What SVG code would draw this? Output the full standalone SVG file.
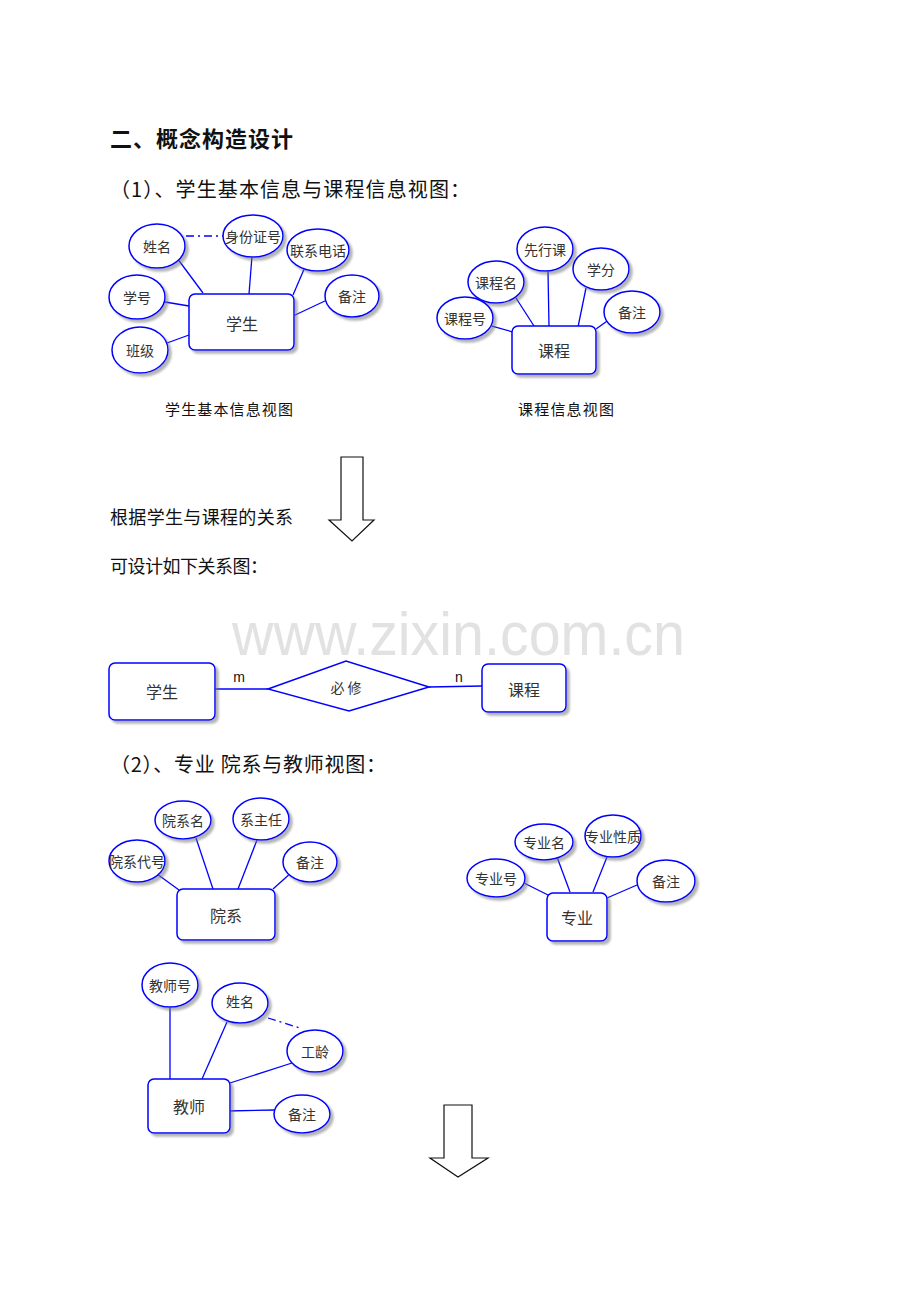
<svg xmlns="http://www.w3.org/2000/svg" width="920" height="1302" viewBox="0 0 920 1302">
<style>
.e{fill:#fff;stroke:#0000ff;stroke-width:1.5;filter:url(#sh)}
.r{fill:#fff;stroke:#0000ff;stroke-width:1.5;filter:url(#sh)}
.l{stroke:#0000ff;stroke-width:1.3;fill:none}
.d{stroke:#0000ff;stroke-width:1.3;fill:none;stroke-dasharray:8 4 2 4}
.t{font-family:"Noto Sans CJK SC","Liberation Sans",sans-serif;fill:#333;text-anchor:middle;dominant-baseline:central;font-size:14px}
.tr{font-family:"Noto Sans CJK SC","Liberation Sans",sans-serif;fill:#333;text-anchor:middle;dominant-baseline:central;font-size:16px}
.h{font-family:"Noto Sans CJK SC","Liberation Serif",sans-serif;fill:#111;dominant-baseline:central}
.a{fill:#fff;stroke:#111;stroke-width:1.2}
</style>
<defs>
<filter id="sh" x="-20%" y="-20%" width="150%" height="150%">
<feDropShadow dx="3" dy="3" stdDeviation="1.2" flood-color="#777" flood-opacity="0.55"/>
</filter>
</defs>
<rect width="920" height="1302" fill="#fff"/>

<!-- headings -->
<g id="headings">
<text class="h" x="110" y="137" font-size="22" font-weight="bold" textLength="183">二、概念构造设计</text>
<text class="h" x="110" y="188" font-size="20" textLength="360">（1）、学生基本信息与课程信息视图：</text>
<text class="h" x="165" y="408" font-size="15" textLength="128" fill="#222">学生基本信息视图</text>
<text class="h" x="518" y="408" font-size="15" textLength="96">课程信息视图</text>
<text class="h" x="110" y="516" font-size="18" textLength="183">根据学生与课程的关系</text>
<text class="h" x="110" y="565" font-size="18" textLength="158">可设计如下关系图：</text>
<text class="h" x="110" y="763" font-size="20" textLength="276">（2）、专业 院系与教师视图：</text>
</g>

<g id="watermark">
<text x="232" y="655" font-family="Liberation Sans, sans-serif" font-size="62" fill="#e2e2e2" textLength="453" lengthAdjust="spacingAndGlyphs">www.zixin.com.cn</text>
</g>

<!-- connectors -->
<g id="connectors">
<!-- student view -->
<line class="l" x1="177" y1="258" x2="203" y2="293"/>
<line class="d" x1="186" y1="236" x2="224" y2="236"/>
<line class="l" x1="252" y1="256" x2="249" y2="294"/>
<line class="l" x1="305" y1="267" x2="293" y2="295"/>
<line class="l" x1="327" y1="300" x2="293" y2="316"/>
<line class="l" x1="165" y1="302" x2="189" y2="306"/>
<line class="l" x1="167" y1="343" x2="189" y2="335"/>
<!-- course view -->
<line class="l" x1="492" y1="326" x2="513" y2="332"/>
<line class="l" x1="516" y1="298" x2="534" y2="326"/>
<line class="l" x1="548" y1="271" x2="549" y2="327"/>
<line class="l" x1="586" y1="288" x2="578" y2="327"/>
<line class="l" x1="610" y1="319" x2="596" y2="329"/>
<!-- relation -->
<line class="l" x1="215" y1="689" x2="268" y2="689"/>
<line class="l" x1="429" y1="687" x2="482" y2="686"/>
<!-- department -->
<line class="l" x1="157" y1="874" x2="179" y2="890"/>
<line class="l" x1="196" y1="838" x2="213" y2="889"/>
<line class="l" x1="257" y1="840" x2="238" y2="889"/>
<line class="l" x1="292" y1="872" x2="273" y2="889"/>
<!-- major -->
<line class="l" x1="524" y1="883" x2="552" y2="897"/>
<line class="l" x1="557" y1="857" x2="570" y2="892"/>
<line class="l" x1="607" y1="857" x2="593" y2="892"/>
<line class="l" x1="637" y1="885" x2="607" y2="898"/>
<!-- teacher -->
<line class="l" x1="170" y1="1006" x2="170" y2="1082"/>
<line class="l" x1="227" y1="1022" x2="202" y2="1079"/>
<line class="l" x1="292" y1="1063" x2="230" y2="1083"/>
<line class="l" x1="227" y1="1111" x2="274" y2="1110"/>
<line class="d" x1="268" y1="1018" x2="300" y2="1028"/>
</g>

<!-- student view -->
<g id="n-student"><rect class="r" x="189" y="294" width="105" height="56" rx="6"/><text class="tr" x="242" y="323">学生</text></g>
<g id="a-xm"><ellipse class="e" cx="157" cy="246" rx="28" ry="22"/><text class="t" x="157" y="246">姓名</text></g>
<g id="a-sfzh"><ellipse class="e" cx="253" cy="236" rx="30" ry="21"/><text class="t" x="253" y="236">身份证号</text></g>
<g id="a-lxdh"><ellipse class="e" cx="318" cy="250" rx="31" ry="21"/><text class="t" x="318" y="250">联系电话</text></g>
<g id="a-xh"><ellipse class="e" cx="137" cy="297" rx="28" ry="22"/><text class="t" x="137" y="297">学号</text></g>
<g id="a-bz1"><ellipse class="e" cx="352" cy="296" rx="27" ry="21"/><text class="t" x="352" y="296">备注</text></g>
<g id="a-bj"><ellipse class="e" cx="140" cy="350" rx="28" ry="23"/><text class="t" x="140" y="350">班级</text></g>

<!-- course view -->
<g id="n-course"><rect class="r" x="512" y="326" width="84" height="48" rx="6"/><text class="tr" x="554" y="350">课程</text></g>
<g id="a-xxk"><ellipse class="e" cx="545" cy="249" rx="28" ry="22"/><text class="t" x="545" y="249">先行课</text></g>
<g id="a-xf"><ellipse class="e" cx="601" cy="269" rx="28" ry="21"/><text class="t" x="601" y="269">学分</text></g>
<g id="a-kcm"><ellipse class="e" cx="496" cy="282" rx="28" ry="21"/><text class="t" x="496" y="282">课程名</text></g>
<g id="a-kch"><ellipse class="e" cx="465" cy="318" rx="28" ry="21"/><text class="t" x="465" y="318">课程号</text></g>
<g id="a-bz2"><ellipse class="e" cx="632" cy="312" rx="28" ry="21"/><text class="t" x="632" y="312">备注</text></g>

<!-- arrow 1 -->
<g id="arrow1"><path class="a" d="M341,457 H363 V520 H374 L352,541 L329,520 H341 Z"/></g>

<!-- relation -->
<g id="r-student"><rect class="r" x="109" y="663" width="106" height="57" rx="6"/><text class="tr" x="162" y="691">学生</text></g>
<g id="r-rel"><path d="M268,689 L346,661 L429,687 L349,711 Z" fill="#fff" stroke="#0000ff" stroke-width="1.5"/><text class="t" x="346" y="687" fill="#444">必 修</text></g>
<g id="r-course"><rect class="r" x="482" y="664" width="84" height="48" rx="6"/><text class="tr" x="524" y="689">课程</text></g>
<g id="r-labels"><text x="239" y="682" font-family="Liberation Sans, sans-serif" font-size="14" text-anchor="middle" fill="#111">m</text><text x="459" y="682" font-family="Liberation Sans, sans-serif" font-size="14" text-anchor="middle" fill="#111">n</text></g>

<!-- department -->
<g id="n-dept"><rect class="r" x="177" y="889" width="98" height="51" rx="6"/><text class="tr" x="226" y="915">院系</text></g>
<g id="a-yxm"><ellipse class="e" cx="183" cy="820" rx="28" ry="19"/><text class="t" x="183" y="820">院系名</text></g>
<g id="a-xzr"><ellipse class="e" cx="261" cy="819" rx="28" ry="21"/><text class="t" x="261" y="819">系主任</text></g>
<g id="a-yxdh"><ellipse class="e" cx="137" cy="861" rx="28" ry="21"/><text class="t" x="137" y="861">院系代号</text></g>
<g id="a-bz3"><ellipse class="e" cx="310" cy="862" rx="27" ry="20"/><text class="t" x="310" y="862">备注</text></g>

<!-- major -->
<g id="n-major"><rect class="r" x="547" y="893" width="60" height="48" rx="6"/><text class="tr" x="577" y="917">专业</text></g>
<g id="a-zym"><ellipse class="e" cx="544" cy="842" rx="29" ry="18"/><text class="t" x="544" y="842">专业名</text></g>
<g id="a-zyxz"><ellipse class="e" cx="613" cy="836" rx="28" ry="21"/><text class="t" x="613" y="836">专业性质</text></g>
<g id="a-zyh"><ellipse class="e" cx="496" cy="878" rx="29" ry="19"/><text class="t" x="496" y="878">专业号</text></g>
<g id="a-bz4"><ellipse class="e" cx="666" cy="881" rx="29" ry="21"/><text class="t" x="666" y="881">备注</text></g>

<!-- teacher -->
<g id="n-teacher"><rect class="r" x="148" y="1079" width="82" height="54" rx="6"/><text class="tr" x="189" y="1106">教师</text></g>
<g id="a-jsh"><ellipse class="e" cx="170" cy="985" rx="28" ry="22"/><text class="t" x="170" y="985">教师号</text></g>
<g id="a-xm2"><ellipse class="e" cx="240" cy="1003" rx="28" ry="20"/><text class="t" x="240" y="1001">姓名</text></g>
<g id="a-gl"><ellipse class="e" cx="315" cy="1051" rx="28" ry="21"/><text class="t" x="315" y="1051">工龄</text></g>
<g id="a-bz5"><ellipse class="e" cx="302" cy="1114" rx="28" ry="19"/><text class="t" x="302" y="1114">备注</text></g>

<!-- arrow 2 -->
<g id="arrow2"><path class="a" d="M444,1105 H472 V1158 H488 L458,1177 L430,1158 H444 Z"/></g>
</svg>
